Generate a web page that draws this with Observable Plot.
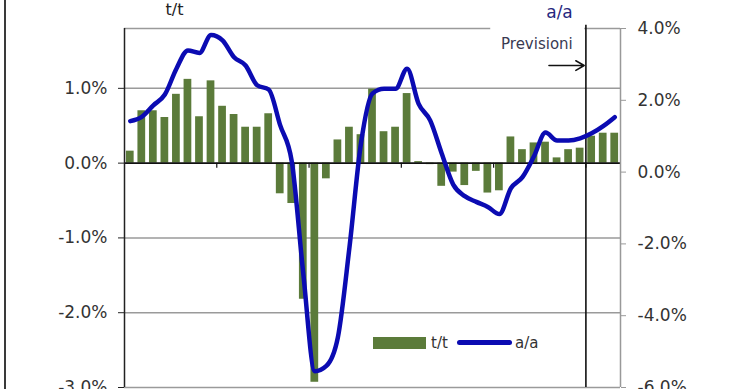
<!DOCTYPE html>
<html>
<head>
<meta charset="utf-8">
<script src="https://cdn.jsdelivr.net/npm/d3@7"></script>
<script src="https://cdn.jsdelivr.net/npm/@observablehq/plot@0.6"></script>
<style>
  body { margin: 0; background: #fff; }
  #wrap { position: relative; width: 740px; height: 389px; overflow: hidden; font-family: "DejaVu Sans", sans-serif; }
  #frameL { position: absolute; left: 4px; top: 0; width: 2px; height: 389px; background: #3a3a3a; }
  .legtxt { position: absolute; font-size: 15px; color: #333; line-height: 15px; }
  .sw { position: absolute; }
</style>
</head>
<body>
<div id="wrap"><div id="frameL"></div></div>
<script>
// ---- data (quarters, t/t % on left axis, a/a % on right axis) ----
const quarter = d3.range(1, 44);
const tt = [0.16, 0.70, 0.70, 0.61, 0.92, 1.12, 0.62, 1.10, 0.76, 0.65, 0.48, 0.48, 0.66,
            -0.41, -0.54, -1.82, -2.93, -0.21, 0.31, 0.48, 0.38, 0.99, 0.42, 0.48, 0.93,
            0.02, -0.02, -0.31, -0.12, -0.30, -0.11, -0.40, -0.37, 0.35, 0.18, 0.27, 0.28,
            0.07, 0.18, 0.20, 0.36, 0.40, 0.40];
const aa = [1.42, 1.54, 1.86, 2.16, 2.88, 3.39, 3.32, 3.82, 3.67, 3.20, 2.97, 2.42, 2.30,
            1.30, 0.30, -2.83, -5.55, -5.40, -4.60, -2.10, 0.80, 2.19, 2.32, 2.32, 2.88,
            1.90, 1.44, 0.52, -0.35, -0.67, -0.83, -0.97, -1.17, -0.45, -0.14, 0.44, 1.10,
            0.88, 0.88, 0.94, 1.08, 1.28, 1.53];
const leftTicks = [-3, -2, -1, 0, 1];
const rightTicks = [-6, -4, -2, 0, 2, 4];
const xTicks = [8, 16, 24, 32, 40];
const forecastStart = 40;   // forecasts after the 40th quarter
const labels = { left: "t/t", right: "a/a", note: "Previsioni" };

// ---- scales ----
const leftDomain = [-3, 1.8];
const rightDomain = [-6, 4];
const k = (leftDomain[1] - leftDomain[0]) / (rightDomain[1] - rightDomain[0]);
const toL = v => leftDomain[0] + (v - rightDomain[0]) * k;
const fromL = y => rightDomain[0] + (y - leftDomain[0]) / k;
const n = quarter.length;
const data = quarter.map((q, i) => ({q, tt: tt[i], aa: aa[i]}));
const pct = v => v.toFixed(1) + "%";

const green = "#5b7b3a";
const blue = "#0b0bb2";

const plot = Plot.plot({
  width: 740, height: 389,
  marginLeft: 124, marginRight: 120, marginTop: 28, marginBottom: 2,
  x: {type: "linear", domain: [0, n], axis: null},
  y: {domain: leftDomain, axis: null},
  style: {fontFamily: "DejaVu Sans, sans-serif", color: "#333", background: "transparent", overflow: "visible"},
  marks: [
    Plot.ruleY(leftTicks.filter(t => t !== 0), {stroke: "#9a9a9a", strokeWidth: 1.5}),
    Plot.ruleY([leftDomain[1]], {stroke: "#9a9a9a", strokeWidth: 1.5}),
    // white box behind the forecast note
    Plot.rect([0], {x1: forecastStart - 8.25, x2: forecastStart - 0.1, y1: 1.42, y2: 1.86, fill: "white"}),
    Plot.rect(data, {x1: d => d.q - 1, x2: d => d.q, y1: 0, y2: d => d.tt, fill: green, insetLeft: 1.9, insetRight: 1.9}),
    Plot.ruleY([0], {stroke: "#111", strokeWidth: 1.6}),
    Plot.ruleX(xTicks, {y1: 0, y2: -0.07, stroke: "#111", strokeWidth: 1.2}),
    Plot.ruleX([0], {stroke: "#222", strokeWidth: 1.5}),
    Plot.ruleX([n], {stroke: "#999", strokeWidth: 1.5}),
    Plot.ruleX([forecastStart], {y1: leftDomain[0], y2: leftDomain[1] + 0.045, stroke: "#111", strokeWidth: 1.6}),
    Plot.line(data, {x: d => d.q - 0.5, y: d => toL(d.aa), stroke: blue, strokeWidth: 4.5,
                     curve: "monotone-x", strokeLinejoin: "round", strokeLinecap: "round"}),
    Plot.axisY(leftTicks, {anchor: "left", tickSize: 6, tickPadding: 11, tickFormat: pct, fontSize: 17, stroke: "#222"}),
    Plot.axisY(rightTicks.map(toL), {anchor: "right", tickSize: 5, tickPadding: 12, fontSize: 17, stroke: "#999",
                                     tickFormat: d => pct(Math.round(fromL(d)))}),
    Plot.text([labels.left], {frameAnchor: "top-left", dx: 50, dy: -19, textAnchor: "middle", lineAnchor: "middle", fontSize: 16, fill: "#222"}),
    Plot.text([labels.right], {frameAnchor: "top-right", dx: -61, dy: -16, textAnchor: "middle", lineAnchor: "middle", fontSize: 17, fill: "#26267e"}),
    Plot.text([labels.note], {x: forecastStart - 4.25, y: 1.59, fontSize: 15, fill: "#3a3a52", lineAnchor: "middle"}),
    Plot.arrow([0], {x1: forecastStart - 3.2, x2: forecastStart - 0.15, y1: 1.305, y2: 1.305, stroke: "#111", strokeWidth: 1.6, headLength: 9})
  ]
});
const wrap = document.getElementById("wrap");
wrap.appendChild(plot);

// legend
const leg = [
  {html: `<div class="sw" style="left:373px;top:337px;width:53px;height:12px;background:${green}"></div>`},
  {html: `<div class="legtxt" style="left:431px;top:336px">${labels.left}</div>`},
  {html: `<div class="sw" style="left:457px;top:340px;width:55px;height:5px;border-radius:3px;background:${blue}"></div>`},
  {html: `<div class="legtxt" style="left:515px;top:336px">${labels.right}</div>`}
];
wrap.insertAdjacentHTML("beforeend", leg.map(d => d.html).join(""));
</script>
</body>
</html>
